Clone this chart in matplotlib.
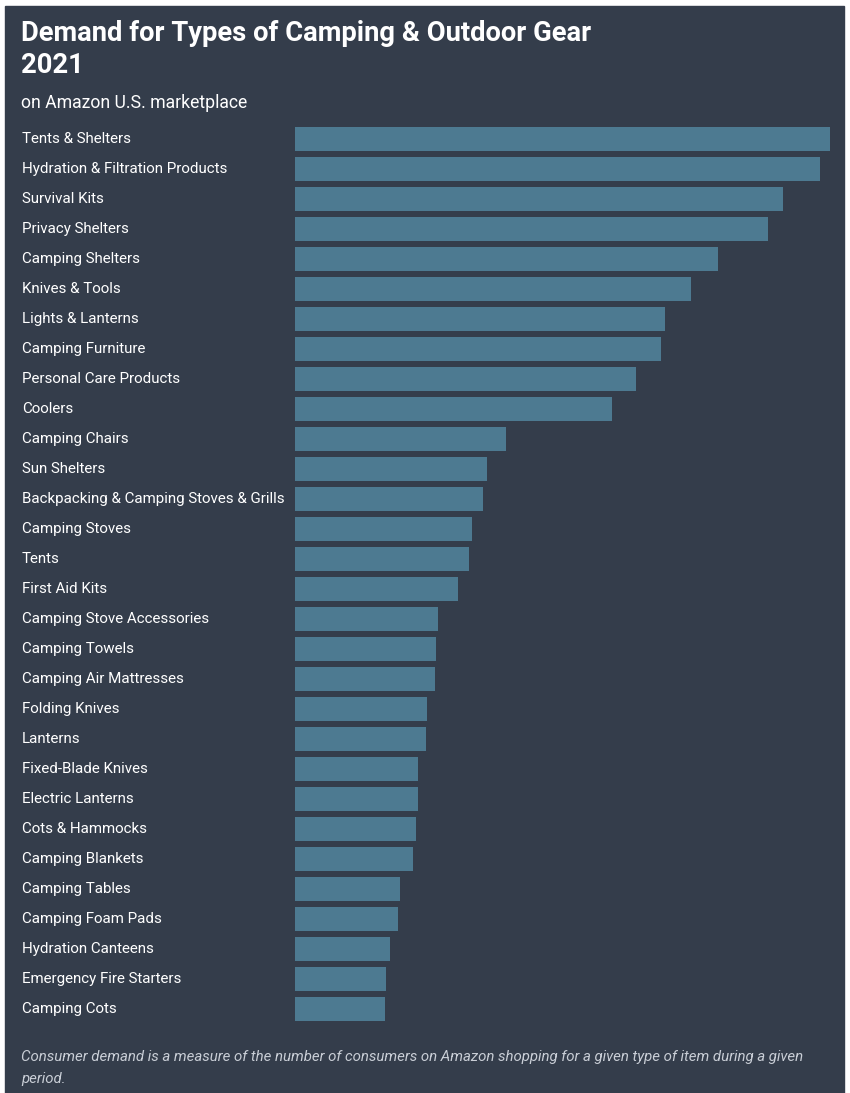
import matplotlib.pyplot as plt
from matplotlib import transforms
from matplotlib.patches import Rectangle

W, H, DPI = 850, 1093, 100
PANEL = "#343d4b"
BAR = "#4d7a91"

categories = [
    "Tents & Shelters", "Hydration & Filtration Products", "Survival Kits",
    "Privacy Shelters", "Camping Shelters", "Knives & Tools", "Lights & Lanterns",
    "Camping Furniture", "Personal Care Products", "Coolers", "Camping Chairs",
    "Sun Shelters", "Backpacking & Camping Stoves & Grills", "Camping Stoves",
    "Tents", "First Aid Kits", "Camping Stove Accessories", "Camping Towels",
    "Camping Air Mattresses", "Folding Knives", "Lanterns", "Fixed-Blade Knives",
    "Electric Lanterns", "Cots & Hammocks", "Camping Blankets", "Camping Tables",
    "Camping Foam Pads", "Hydration Canteens", "Emergency Fire Starters",
    "Camping Cots",
]
demand = [
    535, 525, 488, 473, 423, 396, 370, 366, 341, 317, 211, 192, 188, 177, 174,
    163, 143, 141, 140, 132, 131, 123, 123, 121, 118, 105, 103, 95, 91, 90,
]

plt.rcParams["font.family"] = ["Roboto", "DejaVu Sans"]

fig = plt.figure(figsize=(W / DPI, H / DPI), dpi=DPI, facecolor="white")


def fx(px):
    return px / W


def fy(py):
    return 1 - py / H


# dark card behind everything
fig.patches.append(Rectangle((fx(5), fy(1093)), fx(844) - fx(5), fy(6) - fy(1093),
                             transform=fig.transFigure, color=PANEL, zorder=-10))

# bars area: x 295..830, rows centred 139..1009
n = len(categories)
top, bottom = 124, 1024
ax = fig.add_axes([fx(295), fy(bottom), fx(830) - fx(295), (bottom - top) / H])
ax.set_zorder(1)
ax.set_facecolor("none")
ypos = list(range(n))
ax.barh(ypos, demand, height=0.83, color=BAR)
ax.set_xlim(0, max(demand))
ax.set_ylim(n - 0.5, -0.5)
ax.axis("off")

trans = transforms.blended_transform_factory(fig.transFigure, ax.transData)
for i, name in enumerate(categories):
    ax.text(fx(22), i, name, transform=trans, ha="left", va="center",
            fontsize=10.9, color="white")

fig.text(fx(21), fy(41), "Demand for Types of Camping & Outdoor Gear",
         fontsize=19.7, fontweight="bold", color="white", ha="left", va="baseline")
fig.text(fx(21), fy(73), "2021",
         fontsize=19.7, fontweight="bold", color="white", ha="left", va="baseline")
fig.text(fx(21), fy(108), "on Amazon U.S. marketplace",
         fontsize=12.7, color="white", ha="left", va="baseline")

fig.text(fx(21), fy(1061),
         "Consumer demand is a measure of the number of consumers on Amazon "
         "shopping for a given type of item during a given",
         fontsize=10.85, style="italic", color="#c9ced6", ha="left", va="baseline")
fig.text(fx(21), fy(1083), "period.",
         fontsize=10.85, style="italic", color="#c9ced6", ha="left", va="baseline")

fig.savefig("out.png", dpi=DPI, facecolor="white")
